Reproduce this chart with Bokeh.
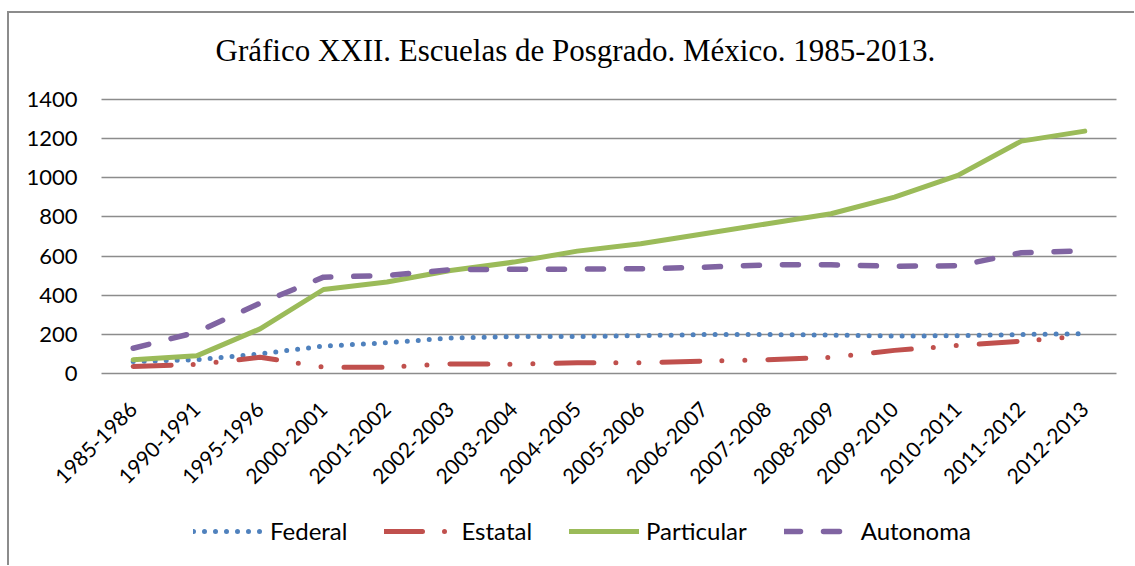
from bokeh.plotting import figure
from bokeh.models import Range1d, Legend, LegendItem, Label, FixedTicker
from bokeh.embed import file_html
from bokeh.resources import INLINE

categories = ["1985-1986", "1990-1991", "1995-1996", "2000-2001", "2001-2002",
              "2002-2003", "2003-2004", "2004-2005", "2005-2006", "2006-2007",
              "2007-2008", "2008-2009", "2009-2010", "2010-2011", "2011-2012",
              "2012-2013"]
federal = [61, 70, 100, 140, 157, 181, 189, 189, 193, 199, 199, 196, 191, 193, 199, 203]
estatal = [36, 46, 83, 32, 32, 49, 47, 55, 55, 63, 70, 82, 118, 143, 165, 192]
particular = [70, 90, 228, 429, 467, 526, 569, 625, 663, 714, 765, 816, 901, 1012, 1187, 1238]
autonoma = [129, 211, 359, 492, 501, 530, 533, 533, 535, 543, 555, 555, 548, 550, 617, 627]
series_names = ["Federal", "Estatal", "Particular", "Autonoma"]
y_ticks = [0, 200, 400, 600, 800, 1000, 1200, 1400]
title_text = "Gráfico XXII. Escuelas de Posgrado. México. 1985-2013."

x_pos = list(range(len(categories)))  # category slots

# the frame covers the whole canvas; title, axes labels and legend sit inside it
p = figure(width=1125, height=552, frame_width=1125, frame_height=552,
           x_range=Range1d(-1.95, 15.784), y_range=Range1d(-981, 1839),
           output_backend="svg", toolbar_location=None, title=None,
           min_border_left=0, min_border_right=0, min_border_top=0,
           min_border_bottom=0)
p.outline_line_color = None
p.background_fill_color = "white"
p.border_fill_color = "white"

r_fed = p.line(x_pos, federal, line_color="#4F81BD", line_width=5,
               line_dash="0 11", line_cap="round")
r_est = p.line(x_pos, estatal, line_color="#C0504D", line_width=5,
               line_dash="38 22 0 23 0 23", line_cap="round")
r_par = p.line(x_pos, particular, line_color="#9BBB59", line_width=5,
               line_cap="round", line_join="round")
r_aut = p.line(x_pos, autonoma, line_color="#8064A2", line_width=5.5,
               line_dash="16 23", line_cap="round")

p.yaxis.ticker = FixedTicker(ticks=y_ticks)
p.ygrid.ticker = FixedTicker(ticks=y_ticks)
p.xaxis.ticker = FixedTicker(ticks=x_pos)
p.xaxis.major_label_overrides = {i: c for i, c in zip(x_pos, categories)}
p.xgrid.grid_line_color = None
p.ygrid.grid_line_color = "#8c8c8c"
p.ygrid.grid_line_width = 1.5
p.ygrid.cross_bounds = (-0.5, 15.5)

for ax in (p.xaxis, p.yaxis):
    ax.axis_line_color = None
    ax.major_tick_line_color = None
    ax.minor_tick_line_color = None
    ax.major_label_text_color = "black"
    ax.major_label_text_font = "Lato"

p.yaxis.fixed_location = -0.5
p.yaxis.major_label_text_font_size = "22px"
p.yaxis.major_label_standoff = 18
p.xaxis.fixed_location = 0
p.xaxis.major_label_text_font_size = "21px"
p.xaxis.major_label_orientation = 0.785398
p.xaxis.major_label_standoff = 26

title = Label(x=6.97, y=1650, text=title_text, text_align="center",
              text_baseline="middle", text_font="Liberation Serif",
              text_font_size="31px", text_color="black")
p.add_layout(title)

legend = Legend(items=[LegendItem(label=series_names[0], renderers=[r_fed]),
                       LegendItem(label=series_names[1], renderers=[r_est]),
                       LegendItem(label=series_names[2], renderers=[r_par]),
                       LegendItem(label=series_names[3], renderers=[r_aut])],
                orientation="horizontal", location=(184, 20),
                glyph_width=70, glyph_height=26, label_height=26,
                label_standoff=7, spacing=37, padding=0, margin=0,
                border_line_alpha=0, background_fill_alpha=0,
                label_text_font="Lato", label_text_font_size="24px",
                label_text_color="black")
p.add_layout(legend)

p.styles = {"border-top": "2px solid #8c8c8c", "border-left": "2px solid #8c8c8c",
            "margin-top": "11px", "margin-left": "7px"}

open("out.html", "w").write(file_html(p, INLINE))
